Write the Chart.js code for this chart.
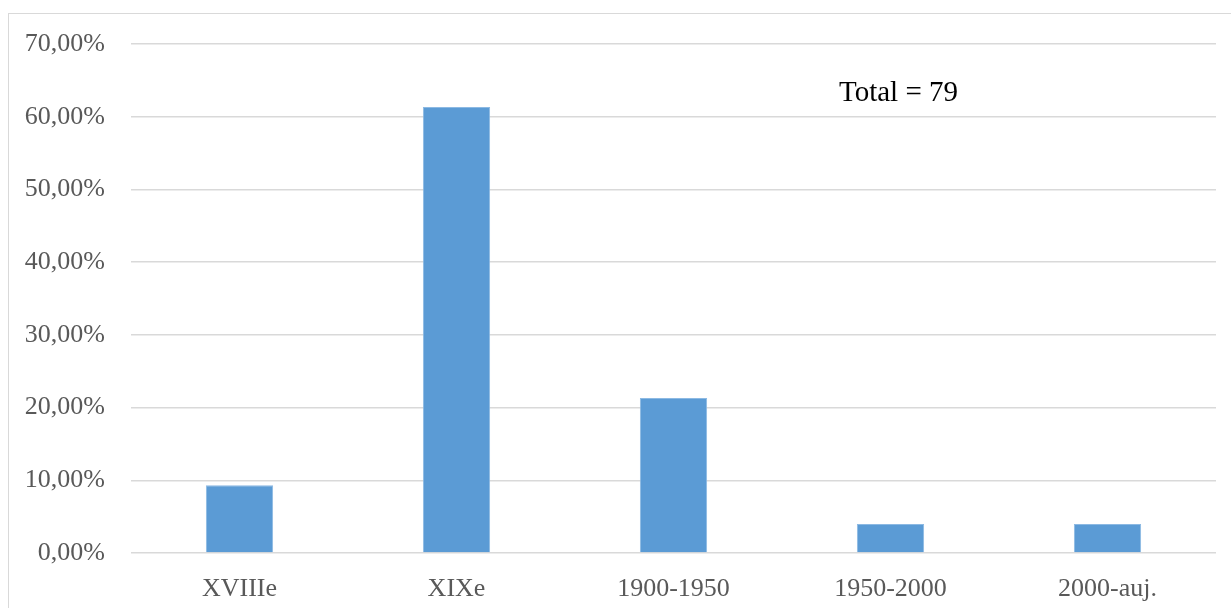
<!DOCTYPE html>
<html>
<head>
<meta charset="utf-8">
<script src="https://cdn.jsdelivr.net/npm/chart.js@4"></script>
<style>
  html, body { margin: 0; padding: 0; background: #fff; overflow: hidden; }
  #frame {
    position: absolute; left: 8px; top: 13px; width: 1240px; height: 620px;
    border: 1px solid #d9d9d9; box-sizing: border-box;
  }
  #wrap { position: absolute; left: 0; top: 0; width: 1231px; height: 608px; }
</style>
</head>
<body>
<div id="frame"></div>
<div id="wrap"><canvas id="chart"></canvas></div>
<script>
// data
const periods = ['XVIIIe', 'XIXe', '1900-1950', '1950-2000', '2000-auj.'];
const shares = [9.33, 61.33, 21.33, 4.0, 4.0];
const yTicks = [0, 10, 20, 30, 40, 50, 60, 70];
const totalNote = 'Total = 79';

const serif = '"Liberation Serif", "Times New Roman", serif';

// note in the top right corner
const notePlugin = {
  id: 'note',
  afterDraw(chart) {
    const ctx = chart.ctx;
    ctx.save();
    ctx.font = '29px ' + serif;
    ctx.fillStyle = '#000';
    ctx.textAlign = 'left';
    ctx.textBaseline = 'alphabetic';
    ctx.fillText(totalNote, 839, 101);
    ctx.restore();
  }
};

new Chart(document.getElementById('chart'), {
  type: 'bar',
  data: {
    labels: periods,
    datasets: [{
      data: shares,
      backgroundColor: '#5b9bd5',
      borderColor: '#8cb9e3',
      borderWidth: 1,
      borderSkipped: 'bottom',
      barPercentage: 0.31,
      categoryPercentage: 1
    }]
  },
  options: {
    responsive: true,
    maintainAspectRatio: false,
    animation: false,
    layout: { padding: { top: 44, right: 15, left: 0, bottom: 0 } },
    plugins: { legend: { display: false }, tooltip: { enabled: false } },
    scales: {
      x: {
        grid: { display: false },
        border: { display: false },
        ticks: {
          color: '#595959',
          font: { family: serif, size: 26 },
          padding: 13,
          maxRotation: 0
        },
        afterFit(scale) { scale.height = 55; }
      },
      y: {
        min: 0,
        max: 70,
        afterBuildTicks(scale) { scale.ticks = yTicks.map(v => ({ value: v })); },
        grid: { color: '#d9d9d9', lineWidth: 1.5, drawTicks: false },
        border: { display: false },
        ticks: {
          color: '#595959',
          font: { family: serif, size: 26 },
          padding: 26,
          callback: v => v.toFixed(2).replace('.', ',') + '%'
        },
        afterFit(scale) { scale.width = 131; }
      }
    }
  },
  plugins: [notePlugin]
});
</script>
</body>
</html>
